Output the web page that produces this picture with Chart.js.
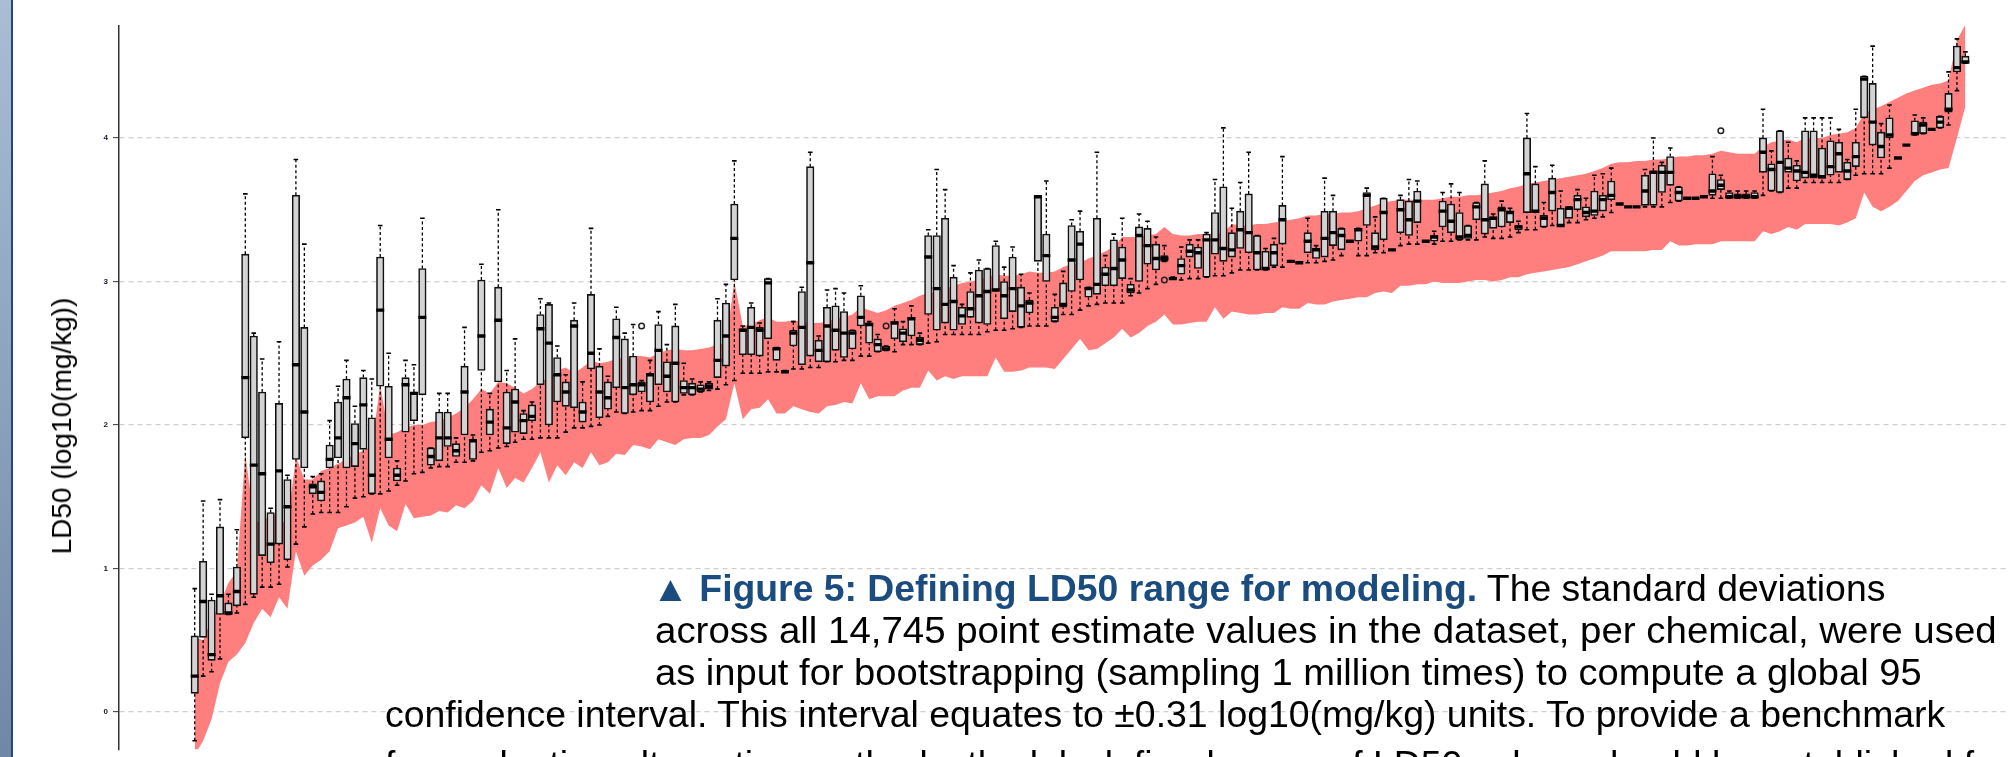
<!DOCTYPE html>
<html>
<head>
<meta charset="utf-8">
<script src="https://cdn.jsdelivr.net/npm/chart.js@4.4.1/dist/chart.umd.min.js"></script>
<style>
  body { margin: 0; background: #fff; overflow: hidden; }
  #wrap { position: relative; width: 2013px; height: 757px; overflow: hidden; }
  #strip { position: absolute; left: 0; top: 0; width: 11px; height: 757px;
           background: linear-gradient(#a9bed5, #7187a6); border-right: 2px solid #1f4a80; }
  #ytitle { position: absolute; left: 62px; top: 426px; white-space: nowrap;
            font-family: 'Liberation Sans', Arial, sans-serif; font-size: 28px; color: #000;
            transform: translate(-50%, -50%) rotate(-90deg); }
  .cap { position: absolute; white-space: nowrap; font-family: 'Liberation Sans', Arial, sans-serif;
         font-size: 36px; line-height: 43px; color: #000; transform-origin: 0 0; }
  .cap b { color: #1b4c80; }
</style>
</head>
<body>
<div id="wrap">
  <canvas id="chart" width="2013" height="757"></canvas>
  <div id="strip"></div>
  <div id="ytitle">LD50 (log10(mg/kg))</div>
  <div class="cap" id="c1" style="left:652px;top:567px"><b>▲ Figure 5: Defining LD50 range for modeling.</b> The standard deviations</div>
  <div class="cap" id="c2" style="left:655px;top:609px">across all 14,745 point estimate values in the dataset, per chemical, were used</div>
  <div class="cap" id="c3" style="left:655px;top:651px">as input for bootstrapping (sampling 1 million times) to compute a global 95</div>
  <div class="cap" id="c4" style="left:385px;top:693px">confidence interval. This interval equates to ±0.31 log10(mg/kg) units. To provide a benchmark</div>
  <div class="cap" id="c5" style="left:385px;top:743px">for evaluating alternative methods, the lab-defined range of LD50 values should be established for</div>
</div>
<script>
// one entry per chemical, sorted as in the figure (211 chemicals)
const whiskerLow = [
  -0.20, 0.25, 0.28, 0.37, 0.68, 0.69, 0.75, 0.80, 0.87, 0.87,
  0.89, 1.01, 1.17, 1.29, 1.38, 1.39, 1.39, 1.39, 1.43, 1.49,
  1.50, 1.52, 1.52, 1.54, 1.58, 1.61, 1.66, 1.67, 1.70, 1.71,
  1.71, 1.74, 1.74, 1.75, 1.81, 1.82, 1.84, 1.85, 1.88, 1.90,
  1.90, 1.91, 1.91, 1.91, 1.95, 1.98, 1.98, 1.99, 2.00, 2.06,
  2.09, 2.08, 2.09, 2.10, 2.10, 2.13, 2.16, 2.16, 2.21, 2.21,
  2.23, 2.24, 2.25, 2.28, 2.31, 2.36, 2.36, 2.36, 2.37, 2.37,
  2.37, 2.39, 2.39, 2.40, 2.40, 2.44, 2.44, 2.45, 2.45, 2.48,
  2.48, 2.51, 2.52, 2.51, 2.56, 2.56, 2.56, 2.57, 2.58, 2.63,
  2.63, 2.63, 2.63, 2.63, 2.65, 2.66, 2.66, 2.67, 2.68, 2.69,
  2.69, 2.69, 2.72, 2.77, 2.77, 2.80, 2.83, 2.84, 2.85, 2.85,
  2.85, 2.90, 2.92, 2.95, 2.98, 3.14, 3.02, 3.01, 3.02, 3.02,
  3.03, 3.04, 3.04, 3.06, 3.08, 3.08, 3.08, 3.08, 3.10, 3.10,
  3.14, 3.13, 3.13, 3.13, 3.14, 3.15, 3.18, 3.28, 3.18, 3.18,
  3.20, 3.20, 3.22, 3.25, 3.26, 3.26, 3.28, 3.26, 3.28, 3.28,
  3.29, 3.29, 3.29, 3.31, 3.30, 3.30, 3.31, 3.34, 3.36, 3.36,
  3.38, 3.39, 3.39, 3.41, 3.41, 3.43, 3.44, 3.45, 3.48, 3.54,
  3.52, 3.52, 3.52, 3.52, 3.52, 3.55, 3.56, 3.58, 3.58, 3.59,
  3.58, 3.58, 3.58, 3.58, 3.58, 3.58, 3.60, 3.63, 3.62, 3.65,
  3.65, 3.69, 3.69, 3.69, 3.69, 3.69, 3.71, 3.74, 3.75, 3.75,
  3.75, 3.79, 3.86, 3.95, 4.02, 4.03, 4.06, 4.07, 4.09, 4.33, 4.52
];
const quartile1 = [
  0.13, 0.52, 0.36, 0.68, 0.68, 0.74, 1.91, 0.82, 1.09, 1.04,
  1.17, 1.06, 1.76, 1.70, 1.52, 1.47, 1.70, 1.77, 1.70, 1.71,
  1.83, 1.52, 2.27, 1.77, 1.61, 1.95, 2.03, 2.21, 1.72, 1.75,
  1.85, 1.78, 1.93, 1.76, 2.38, 1.93, 2.30, 1.87, 1.95, 1.94,
  2.03, 2.28, 2.00, 2.16, 2.13, 2.12, 2.02, 2.39, 2.05, 2.11,
  2.26, 2.08, 2.21, 2.23, 2.16, 2.28, 2.23, 2.16, 2.22, 2.21,
  2.23, 2.25, 2.33, 2.41, 3.01, 2.49, 2.49, 2.48, 2.60, 2.45,
  2.37, 2.55, 2.42, 2.48, 2.44, 2.44, 2.52, 2.47, 2.53, 2.69,
  2.57, 2.51, 2.52, 2.60, 2.58, 2.62, 2.56, 2.77, 2.66, 2.71,
  2.66, 2.70, 2.75, 2.71, 2.70, 2.94, 2.74, 2.79, 2.68, 2.78,
  3.14, 3.00, 2.72, 2.82, 2.93, 3.01, 2.89, 2.91, 2.97, 2.97,
  3.02, 2.92, 3.00, 3.12, 3.08, 3.14, 3.02, 3.05, 3.17, 3.09,
  3.03, 3.19, 3.14, 3.17, 3.23, 3.20, 3.08, 3.08, 3.11, 3.26,
  3.14, 3.13, 3.20, 3.16, 3.17, 3.25, 3.22, 3.28, 3.28, 3.39,
  3.22, 3.29, 3.22, 3.34, 3.32, 3.41, 3.28, 3.28, 3.38, 3.34,
  3.29, 3.30, 3.43, 3.33, 3.37, 3.38, 3.41, 3.36, 3.48, 3.48,
  3.38, 3.49, 3.39, 3.44, 3.50, 3.45, 3.46, 3.49, 3.57, 3.54,
  3.52, 3.52, 3.53, 3.53, 3.62, 3.67, 3.56, 3.58, 3.58, 3.59,
  3.60, 3.64, 3.58, 3.58, 3.58, 3.58, 3.76, 3.63, 3.62, 3.76,
  3.70, 3.72, 3.72, 3.72, 3.74, 3.76, 3.71, 3.80, 4.14, 3.95,
  3.86, 4.00, 3.86, 3.95, 4.02, 4.03, 4.06, 4.07, 4.18, 4.46, 4.52
];
const median = [
  0.25, 0.77, 0.40, 0.81, 0.69, 0.84, 2.33, 1.72, 1.66, 1.17,
  1.68, 1.43, 2.42, 2.09, 1.57, 1.53, 1.76, 1.91, 2.19, 1.87,
  2.14, 1.65, 2.80, 1.90, 1.65, 2.28, 2.22, 2.75, 1.78, 1.91,
  1.91, 1.82, 2.23, 1.89, 2.62, 2.02, 2.73, 1.98, 2.16, 2.03,
  2.06, 2.67, 2.57, 2.35, 2.23, 2.69, 2.09, 2.50, 2.23, 2.19,
  2.61, 2.26, 2.28, 2.28, 2.35, 2.52, 2.34, 2.43, 2.26, 2.26,
  2.25, 2.27, 2.45, 2.62, 3.30, 2.66, 2.68, 2.66, 2.99, 2.53,
  2.37, 2.64, 2.68, 3.13, 2.52, 2.69, 2.66, 2.64, 2.64, 2.75,
  2.70, 2.56, 2.53, 2.71, 2.64, 2.74, 2.59, 3.17, 2.95, 2.84,
  2.86, 2.76, 2.81, 2.90, 2.93, 2.94, 2.90, 2.95, 2.83, 2.85,
  3.59, 3.18, 2.75, 2.84, 3.15, 3.26, 2.95, 2.98, 3.05, 3.09,
  3.15, 2.94, 3.32, 3.25, 3.16, 3.16, 3.02, 3.11, 3.21, 3.20,
  3.29, 3.29, 3.23, 3.22, 3.36, 3.34, 3.20, 3.09, 3.20, 3.43,
  3.14, 3.13, 3.28, 3.22, 3.30, 3.34, 3.32, 3.28, 3.36, 3.60,
  3.24, 3.48, 3.22, 3.50, 3.43, 3.56, 3.28, 3.31, 3.49, 3.42,
  3.31, 3.32, 3.52, 3.43, 3.44, 3.50, 3.48, 3.38, 3.75, 3.49,
  3.44, 3.62, 3.39, 3.51, 3.57, 3.48, 3.49, 3.57, 3.60, 3.54,
  3.52, 3.52, 3.63, 3.76, 3.76, 3.76, 3.62, 3.58, 3.58, 3.59,
  3.63, 3.67, 3.59, 3.59, 3.59, 3.59, 3.90, 3.78, 3.83, 3.79,
  3.77, 3.76, 3.74, 3.73, 3.80, 3.89, 3.77, 3.87, 4.41, 4.11,
  3.94, 4.02, 3.86, 3.95, 4.03, 4.09, 4.06, 4.11, 4.20, 4.49, 4.53
];
const quartile3 = [
  0.53, 1.05, 0.78, 1.29, 0.76, 1.01, 3.19, 2.62, 2.23, 1.39,
  2.15, 1.62, 3.60, 2.68, 1.59, 1.61, 1.86, 2.16, 2.32, 2.01,
  2.33, 2.05, 3.17, 2.27, 1.70, 2.33, 2.23, 3.09, 1.84, 2.09,
  2.09, 1.87, 2.41, 1.90, 3.01, 2.11, 2.96, 2.23, 2.25, 2.08,
  2.14, 2.77, 2.84, 2.47, 2.30, 2.73, 2.16, 2.91, 2.41, 2.30,
  2.74, 2.60, 2.48, 2.30, 2.35, 2.70, 2.44, 2.69, 2.31, 2.29,
  2.28, 2.29, 2.73, 2.85, 3.54, 2.67, 2.82, 2.68, 3.02, 2.54,
  2.38, 2.66, 2.93, 3.80, 2.59, 2.82, 2.83, 2.79, 2.66, 2.90,
  2.71, 2.60, 2.55, 2.72, 2.67, 2.75, 2.61, 3.32, 3.32, 3.44,
  3.03, 2.82, 2.93, 3.08, 3.09, 3.25, 3.00, 3.17, 2.96, 2.87,
  3.59, 3.33, 2.82, 2.99, 3.39, 3.35, 2.96, 3.44, 3.10, 3.29,
  3.24, 2.98, 3.38, 3.37, 3.26, 3.18, 3.03, 3.16, 3.26, 3.24,
  3.33, 3.48, 3.66, 3.34, 3.49, 3.61, 3.32, 3.21, 3.26, 3.53,
  3.14, 3.13, 3.34, 3.23, 3.49, 3.49, 3.37, 3.28, 3.37, 3.62,
  3.34, 3.58, 3.22, 3.57, 3.56, 3.63, 3.28, 3.32, 3.56, 3.54,
  3.48, 3.39, 3.55, 3.68, 3.45, 3.52, 3.49, 3.39, 4.00, 3.68,
  3.46, 3.72, 3.51, 3.52, 3.60, 3.52, 3.63, 3.60, 3.70, 3.54,
  3.52, 3.52, 3.74, 3.77, 3.81, 3.87, 3.66, 3.58, 3.58, 3.59,
  3.75, 3.71, 3.62, 3.61, 3.61, 3.62, 4.00, 3.82, 4.05, 3.86,
  3.81, 4.05, 4.05, 3.93, 3.98, 3.97, 3.83, 3.97, 4.43, 4.38,
  4.04, 4.14, 3.86, 3.95, 4.12, 4.11, 4.06, 4.15, 4.31, 4.64, 4.57
];
const whiskerHigh = [
  0.86, 1.47, 0.82, 1.48, 0.82, 1.27, 3.61, 2.64, 2.46, 1.42,
  2.58, 1.65, 3.85, 3.26, 1.64, 1.66, 2.03, 2.27, 2.45, 2.13,
  2.38, 2.32, 3.39, 2.50, 1.75, 2.45, 2.42, 3.44, 1.84, 2.22,
  2.22, 1.91, 2.68, 1.93, 3.12, 2.22, 3.50, 2.38, 2.60, 2.10,
  2.16, 2.88, 2.85, 2.55, 2.35, 2.85, 2.30, 3.37, 2.53, 2.34,
  2.82, 2.64, 2.70, 2.31, 2.45, 2.79, 2.56, 2.84, 2.43, 2.32,
  2.30, 2.30, 2.88, 2.98, 3.84, 2.69, 2.85, 2.71, 3.02, 2.54,
  2.38, 2.72, 2.96, 3.90, 2.62, 2.94, 2.95, 2.92, 2.66, 2.97,
  2.72, 2.63, 2.55, 2.81, 2.72, 2.83, 2.64, 3.36, 3.78, 3.64,
  3.11, 2.84, 3.06, 3.15, 3.09, 3.28, 3.10, 3.24, 3.05, 2.92,
  3.59, 3.70, 2.91, 3.07, 3.43, 3.49, 2.96, 3.90, 3.18, 3.33,
  3.44, 3.02, 3.47, 3.42, 3.31, 3.25, 3.03, 3.24, 3.29, 3.29,
  3.34, 3.71, 4.07, 3.51, 3.69, 3.90, 3.32, 3.23, 3.30, 3.87,
  3.14, 3.13, 3.44, 3.25, 3.72, 3.60, 3.37, 3.28, 3.37, 3.65,
  3.45, 3.58, 3.22, 3.60, 3.71, 3.70, 3.28, 3.35, 3.62, 3.68,
  3.62, 3.39, 3.55, 3.84, 3.47, 3.56, 3.51, 3.42, 4.17, 3.80,
  3.55, 3.81, 3.63, 3.52, 3.64, 3.58, 3.74, 3.75, 3.79, 3.54,
  3.52, 3.52, 3.78, 4.00, 3.83, 3.93, 3.66, 3.58, 3.58, 3.59,
  3.87, 3.74, 3.63, 3.63, 3.63, 3.63, 4.20, 3.91, 4.05, 3.97,
  3.84, 4.14, 4.14, 4.14, 4.14, 4.06, 3.85, 4.20, 4.43, 4.64,
  4.10, 4.23, 3.86, 3.95, 4.16, 4.14, 4.06, 4.15, 4.46, 4.69, 4.60
];
// 95% band around each chemical
const bandLow = [
  -0.30, -0.20, -0.05, 0.20, 0.35, 0.40, 0.48, 0.62, 0.72, 0.66,
  0.80, 0.72, 1.12, 0.95, 1.02, 1.06, 1.12, 1.28, 1.30, 1.32,
  1.36, 1.18, 1.42, 1.30, 1.26, 1.45, 1.35, 1.36, 1.37, 1.40,
  1.39, 1.44, 1.42, 1.47, 1.58, 1.52, 1.70, 1.56, 1.63, 1.60,
  1.70, 1.81, 1.60, 1.72, 1.65, 1.74, 1.70, 1.81, 1.72, 1.74,
  1.80, 1.79, 1.86, 1.85, 1.83, 1.90, 1.88, 1.86, 1.90, 1.91,
  1.91, 1.93, 1.99, 2.04, 2.29, 2.04, 2.11, 2.12, 2.18, 2.08,
  2.08, 2.13, 2.11, 2.09, 2.08, 2.13, 2.14, 2.16, 2.15, 2.29,
  2.18, 2.20, 2.20, 2.20, 2.24, 2.26, 2.26, 2.38, 2.31, 2.34,
  2.32, 2.34, 2.34, 2.34, 2.34, 2.47, 2.37, 2.37, 2.38, 2.40,
  2.40, 2.40, 2.39, 2.46, 2.53, 2.60, 2.52, 2.53, 2.57, 2.61,
  2.67, 2.61, 2.64, 2.69, 2.72, 2.77, 2.70, 2.70, 2.71, 2.72,
  2.72, 2.82, 2.74, 2.79, 2.78, 2.77, 2.77, 2.78, 2.78, 2.82,
  2.81, 2.81, 2.85, 2.84, 2.84, 2.86, 2.87, 2.88, 2.89, 2.89,
  2.92, 2.93, 2.92, 2.97, 2.97, 2.98, 2.98, 3.00, 2.99, 2.99,
  2.99, 3.00, 3.01, 3.01, 3.00, 3.01, 3.03, 3.03, 3.05, 3.06,
  3.07, 3.08, 3.09, 3.10, 3.12, 3.14, 3.16, 3.18, 3.21, 3.21,
  3.21, 3.21, 3.21, 3.22, 3.22, 3.28, 3.25, 3.25, 3.26, 3.26,
  3.26, 3.28, 3.28, 3.28, 3.28, 3.28, 3.35, 3.33, 3.35, 3.38,
  3.36, 3.40, 3.40, 3.40, 3.40, 3.39, 3.41, 3.44, 3.62, 3.52,
  3.49, 3.52, 3.56, 3.63, 3.70, 3.74, 3.76, 3.78, 3.79, 4.00, 4.22
];
const bandHigh = [
  0.52, 0.50, 0.65, 0.75, 0.90, 0.98, 1.80, 1.35, 1.30, 1.40,
  1.35, 1.30, 1.78, 1.62, 1.62, 1.68, 1.70, 1.73, 1.76, 1.80,
  1.82, 1.85, 2.28, 1.93, 1.95, 1.98, 2.00, 2.00, 2.02, 2.03,
  2.05, 2.08, 2.12, 2.18, 2.25, 2.22, 2.30, 2.29, 2.26, 2.22,
  2.25, 2.30, 2.33, 2.38, 2.40, 2.36, 2.40, 2.45, 2.43, 2.44,
  2.46, 2.47, 2.48, 2.48, 2.47, 2.50, 2.52, 2.53, 2.52, 2.52,
  2.53, 2.54, 2.56, 2.57, 3.00, 2.69, 2.70, 2.73, 2.75, 2.72,
  2.72, 2.73, 2.72, 2.71, 2.71, 2.72, 2.74, 2.75, 2.77, 2.82,
  2.80, 2.78, 2.80, 2.83, 2.85, 2.87, 2.90, 2.92, 2.93, 2.95,
  2.97, 2.99, 3.00, 3.01, 3.03, 3.05, 3.04, 3.04, 3.05, 3.07,
  3.06, 3.06, 3.07, 3.10, 3.12, 3.13, 3.16, 3.18, 3.21, 3.24,
  3.31, 3.31, 3.31, 3.32, 3.33, 3.38, 3.33, 3.32, 3.32, 3.33,
  3.33, 3.33, 3.34, 3.40, 3.39, 3.39, 3.40, 3.40, 3.41, 3.42,
  3.43, 3.44, 3.46, 3.46, 3.47, 3.47, 3.48, 3.48, 3.49, 3.51,
  3.53, 3.55, 3.56, 3.57, 3.57, 3.57, 3.57, 3.57, 3.58, 3.59,
  3.59, 3.60, 3.60, 3.61, 3.62, 3.63, 3.65, 3.66, 3.68, 3.69,
  3.70, 3.71, 3.72, 3.73, 3.74, 3.75, 3.77, 3.79, 3.82, 3.83,
  3.83, 3.84, 3.84, 3.85, 3.85, 3.86, 3.87, 3.87, 3.88, 3.88,
  3.89, 3.91, 3.90, 3.89, 3.89, 3.89, 3.94, 3.97, 3.98, 3.99,
  3.97, 4.00, 4.00, 4.00, 4.02, 4.03, 4.04, 4.07, 4.17, 4.20,
  4.22, 4.25, 4.28, 4.31, 4.33, 4.35, 4.37, 4.38, 4.40, 4.68, 4.79
];
const outlierChemical = [54, 83, 116, 182];
const outlierValue = [2.69, 2.69, 3.01, 4.05];
const yTicks = [0, 1, 2, 3, 4];

const chem = median.map((_, i) => i + 1);
const pts = arr => arr.map((v, i) => ({ x: chem[i], y: v }));

// dashed whiskers: q3 -> high, gap, low -> q1, gap
const whiskerPts = [];
chem.forEach((x, i) => {
  whiskerPts.push({ x, y: quartile3[i] }, { x, y: whiskerHigh[i] }, { x, y: null },
                  { x, y: whiskerLow[i] }, { x, y: quartile1[i] }, { x, y: null });
});

const ctx = document.getElementById('chart');

new Chart(ctx, {
  type: 'bar',
  data: {
    datasets: [
      { type: 'line', data: pts(bandLow), borderColor: 'rgba(0,0,0,0)', borderWidth: 0,
        pointRadius: 0, fill: false, order: 10 },
      { type: 'line', data: pts(bandHigh), borderColor: 'rgba(0,0,0,0)', borderWidth: 0,
        pointRadius: 0, fill: '-1', backgroundColor: 'rgb(255,127,127)', order: 9 },
      { type: 'line', data: whiskerPts, borderColor: '#000', borderWidth: 1.3, borderDash: [3, 2.5],
        pointRadius: 0, spanGaps: false, fill: false, order: 8 },
      { type: 'bar', data: chem.map((x, i) => ({ x, y: [quartile1[i], quartile3[i]] })),
        backgroundColor: '#d3d3d3', borderColor: '#111', borderWidth: 1.6, borderSkipped: false,
        barThickness: 7.5, order: 7 },
      { type: 'line', data: pts(whiskerHigh), showLine: false, pointStyle: 'line', pointRadius: 2.3,
        pointBorderWidth: 1.6, borderColor: '#000', order: 6 },
      { type: 'line', data: pts(whiskerLow), showLine: false, pointStyle: 'line', pointRadius: 2.3,
        pointBorderWidth: 1.6, borderColor: '#000', order: 5 },
      { type: 'line', data: pts(median), showLine: false, pointStyle: 'line', pointRadius: 4,
        pointBorderWidth: 3.4, borderColor: '#000', order: 4 },
      { type: 'line', data: outlierChemical.map((c, i) => ({ x: c, y: outlierValue[i] })), showLine: false,
        pointStyle: 'circle', pointRadius: 2.8, pointBorderWidth: 1.5, borderColor: '#222',
        backgroundColor: 'rgba(0,0,0,0)', order: 3 }
    ]
  },
  options: {
    responsive: false,
    animation: false,
    events: [],
    layout: { padding: { top: 26, right: 0, bottom: 0, left: 0 } },
    plugins: { legend: { display: false }, tooltip: { enabled: false } },
    scales: {
      x: { type: 'linear', min: -7.98, max: 215.77, offset: false, display: false },
      y: {
        min: -0.262, max: 4.78,
        afterBuildTicks: s => { s.ticks = yTicks.map(v => ({ value: v })); },
        afterFit: s => { s.width = 119; s.paddingTop = 0; s.paddingBottom = 0; },
        ticks: { callback: v => String(v), color: '#1a1a33', padding: 5,
                 font: { family: 'Liberation Sans', size: 8, weight: 'bold' } },
        grid: { color: '#cfcfcf', lineWidth: 1.3, tickColor: '#333', tickLength: 6,
                tickWidth: 1, tickBorderDash: [] },
        border: { color: '#333', width: 1.5, dash: [5, 4] },
        title: { display: false }
      }
    }
  }
});

// squeeze caption lines to the narrow face used in the poster
const captionWidths = { c1: 1233, c2: 1342, c3: 1267, c4: 1560 };
function fitCaption() {
  let last = 1;
  for (const id in captionWidths) {
    const el = document.getElementById(id);
    el.style.transform = 'none';
    last = captionWidths[id] / el.offsetWidth;
    el.style.transform = 'scaleX(' + last + ')';
  }
  document.getElementById('c5').style.transform = 'scaleX(' + last + ')';
}
fitCaption();
if (document.fonts) document.fonts.ready.then(fitCaption);
</script>
</body>
</html>
